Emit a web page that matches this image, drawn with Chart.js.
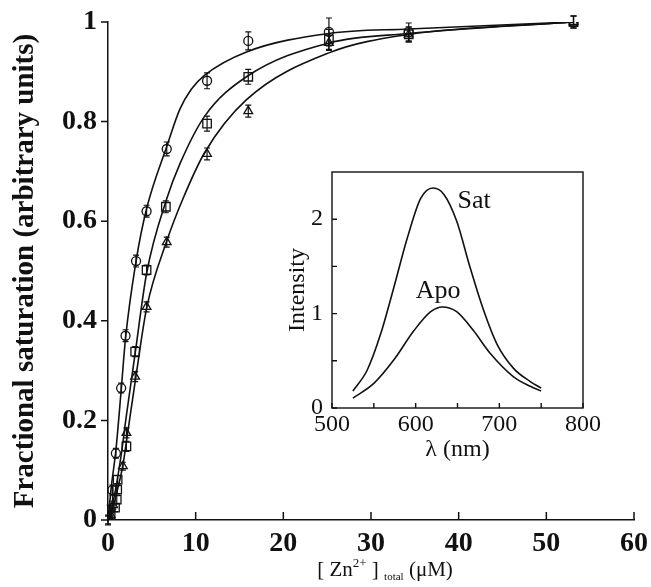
<!DOCTYPE html>
<html lang="en">
<head>
<meta charset="UTF-8">
<title>Zn2+ titration</title>
<script src="https://cdn.jsdelivr.net/npm/chart.js"></script>
<style>
  body { margin: 0; background: #fff; }
  #wrap { position: relative; width: 651px; height: 587px; }
  #mainChart { position: absolute; left: 0; top: 0; }
  #insetChart { position: absolute; left: 270px; top: 150px; }
</style>
</head>
<body>
<div id="wrap">
  <canvas id="mainChart" width="651" height="587"></canvas>
  <canvas id="insetChart" width="340" height="320"></canvas>
</div>
<script>
// ---- main plot: fractional saturation vs total Zn2+ (uM) ----
const concCircle = [0, 0.2, 0.5, 0.9, 1.5, 2.0, 3.2, 4.4, 6.7, 11.3, 16.0, 25.2, 34.3, 53.1];
const fracCircle = [0, 0.02, 0.06, 0.134, 0.265, 0.37, 0.52, 0.62, 0.745, 0.882, 0.962, 0.98, 0.98, 1.0];
const errCircle  = [0.01, 0.01, 0.01, 0.01, 0.01, 0.012, 0.012, 0.012, 0.014, 0.016, 0.018, 0.028, 0.018, 0.012];

const concSquare = [0, 0.3, 0.8, 1.0, 1.05, 1.1, 2.1, 3.1, 4.4, 6.6, 11.3, 16.0, 25.2, 34.3, 53.1];
const fracSquare = [0, 0.01, 0.025, 0.041, 0.061, 0.081, 0.148, 0.338, 0.502, 0.629, 0.796, 0.89, 0.965, 0.975, 1.0];
const errSquare  = [0.008, 0.008, 0.008, 0.008, 0.008, 0.008, 0.01, 0.01, 0.01, 0.012, 0.015, 0.015, 0.02, 0.015, 0.012];

const concTriangle = [0, 0.3, 0.6, 1.7, 2.1, 3.1, 4.4, 6.7, 11.3, 16.0, 25.2, 34.3, 53.1];
const fracTriangle = [0, 0.01, 0.03, 0.108, 0.175, 0.288, 0.428, 0.558, 0.735, 0.821, 0.958, 0.975, 1.0];
const errTriangle  = [0.008, 0.008, 0.008, 0.008, 0.01, 0.01, 0.01, 0.01, 0.012, 0.012, 0.015, 0.015, 0.012];

// fitted curves
const fitConcA = [0, 0.4, 0.9, 1.5, 2.0, 3.2, 4.4, 6.7, 8.2, 9.5, 11.0, 15.8, 25.2, 34.3, 53.1];
const fitA     = [0, 0.07, 0.14, 0.26, 0.365, 0.52, 0.625, 0.75, 0.825, 0.865, 0.893, 0.94, 0.977, 0.986, 1.0];
const fitConcB = [0, 0.5, 1.0, 1.5, 2.1, 3.1, 4.4, 6.7, 8.2, 11.0, 15.8, 25.2, 34.3, 53.1];
const fitB     = [0, 0.03, 0.075, 0.13, 0.21, 0.335, 0.495, 0.645, 0.715, 0.81, 0.89, 0.958, 0.977, 1.0];
const fitConcC = [0, 0.5, 1.0, 1.7, 2.2, 3.2, 4.4, 6.7, 8.5, 11.0, 15.8, 25.2, 34.3, 53.1];
const fitC     = [0, 0.02, 0.055, 0.11, 0.17, 0.29, 0.425, 0.56, 0.643, 0.737, 0.844, 0.938, 0.975, 1.0];

const xTicks = [0, 10, 20, 30, 40, 50, 60];
const yTicks = [0, 0.2, 0.4, 0.6, 0.8, 1];

// ---- inset: emission spectra ----
const waveSat = [525, 542, 558, 574, 590, 606, 621, 634, 649, 665, 681, 697, 717, 737, 750];
const intSat  = [0.18, 0.40, 0.78, 1.28, 1.80, 2.22, 2.33, 2.26, 1.98, 1.49, 1.04, 0.68, 0.42, 0.28, 0.21];
const waveApo = [525, 550, 574, 598, 618, 632, 649, 669, 689, 717, 737, 750];
const intApo  = [0.105, 0.26, 0.51, 0.82, 1.02, 1.07, 1.02, 0.82, 0.58, 0.33, 0.23, 0.18];
const insetXTicks = [500, 550, 600, 650, 700, 750, 800];
const insetYTicks = [0, 0.5, 1, 1.5, 2];
const spectrumNames = ['Sat', 'Apo'];

const serif = "'Liberation Serif', 'Times New Roman', serif";
const ink = '#111';

function pts(xs, ys) {
  return xs.map((x, i) => ({ x: x, y: ys[i] }));
}

function markers(label, xs, ys, errs, style, r) {
  return {
    label: label, data: pts(xs, ys), errors: errs, showLine: false, order: 0,
    pointStyle: style, pointRadius: r, pointBorderWidth: 1.3,
    pointBorderColor: ink, pointBackgroundColor: 'rgba(255,255,255,0)'
  };
}

function curve(label, xs, ys) {
  return {
    label: label, data: pts(xs, ys), showLine: true, order: 1,
    borderColor: ink, borderWidth: 1.6, pointRadius: 0,
    cubicInterpolationMode: 'monotone'
  };
}

// chart.js adds tick-label room around the plot; we set the area ourselves
function noPadding(s) {
  s.paddingTop = 0; s.paddingBottom = 0; s.paddingLeft = 0; s.paddingRight = 0;
}

const errorBars = {
  id: 'errorBars',
  afterDatasetsDraw(chart) {
    const { ctx, scales: { x, y } } = chart;
    ctx.save();
    ctx.strokeStyle = ink;
    ctx.lineWidth = 1.2;
    chart.data.datasets.forEach(ds => {
      if (!ds.errors) return;
      ds.data.forEach((p, i) => {
        const px = x.getPixelForValue(p.x);
        const lo = y.getPixelForValue(p.y - ds.errors[i]);
        const hi = y.getPixelForValue(p.y + ds.errors[i]);
        ctx.beginPath();
        ctx.moveTo(px, lo); ctx.lineTo(px, hi);
        ctx.moveTo(px - 3, lo); ctx.lineTo(px + 3, lo);
        ctx.moveTo(px - 3, hi); ctx.lineTo(px + 3, hi);
        ctx.stroke();
      });
    });
    ctx.restore();
  }
};

// tick marks: y outward (to the left), x inward (upward)
const mainTicks = {
  id: 'mainTicks',
  afterDraw(chart) {
    const { ctx, chartArea: a, scales: { x, y } } = chart;
    ctx.save();
    ctx.strokeStyle = ink;
    ctx.lineWidth = 1.5;
    ctx.beginPath();
    yTicks.forEach(v => {
      const py = y.getPixelForValue(v);
      ctx.moveTo(a.left - 7, py); ctx.lineTo(a.left, py);
    });
    xTicks.forEach(v => {
      const px = x.getPixelForValue(v);
      ctx.moveTo(px, a.bottom); ctx.lineTo(px, a.bottom - 8);
    });
    ctx.stroke();

    // x axis title with super/subscripts
    const parts = [
      { t: '[ Zn', size: 21, dy: 0 },
      { t: '2+', size: 13, dy: -9 },
      { t: ' ] ', size: 21, dy: 0 },
      { t: 'total', size: 11, dy: 4 },
      { t: ' (\u03bcM)', size: 21, dy: 0 }
    ];
    let w = 0;
    parts.forEach(p => { ctx.font = p.size + 'px ' + serif; p.w = ctx.measureText(p.t).width; w += p.w; });
    let cx = 385 - w / 2;
    ctx.fillStyle = ink;
    ctx.textBaseline = 'alphabetic';
    parts.forEach(p => {
      ctx.font = p.size + 'px ' + serif;
      ctx.fillText(p.t, cx, 576 + p.dy);
      cx += p.w;
    });
    ctx.restore();
  }
};

new Chart(document.getElementById('mainChart'), {
  type: 'scatter',
  data: {
    datasets: [
      curve('fit circles', fitConcA, fitA),
      curve('fit squares', fitConcB, fitB),
      curve('fit triangles', fitConcC, fitC),
      markers('circles', concCircle, fracCircle, errCircle, 'circle', 4.5),
      markers('squares', concSquare, fracSquare, errSquare, 'rect', 6),
      markers('triangles', concTriangle, fracTriangle, errTriangle, 'triangle', 5)
    ]
  },
  options: {
    responsive: false,
    animation: false,
    layout: { padding: { left: 0, top: 22, right: 17, bottom: 0 } },
    plugins: { legend: { display: false }, tooltip: { enabled: false } },
    scales: {
      x: {
        type: 'linear', min: 0, max: 60,
        afterFit: s => { s.height = 67; noPadding(s); },
        afterBuildTicks: s => { s.ticks = xTicks.map(v => ({ value: v })); },
        grid: { display: false, drawTicks: false },
        border: { display: true, color: ink, width: 1.5 },
        ticks: { color: ink, padding: 7, maxRotation: 0, autoSkip: false,
                 font: { family: serif, size: 28, weight: 'bold' } }
      },
      y: {
        type: 'linear', min: 0, max: 1,
        afterFit: s => { s.width = 108; noPadding(s); },
        afterBuildTicks: s => { s.ticks = yTicks.map(v => ({ value: v })); },
        grid: { display: false, drawTicks: false },
        border: { display: true, color: ink, width: 1.5 },
        ticks: { color: ink, padding: 11, autoSkip: false,
                 callback: v => String(+v.toFixed(1)),
                 font: { family: serif, size: 28, weight: 'bold' } },
        title: { display: true, text: 'Fractional saturation (arbitrary units)', color: ink,
                 padding: { top: 8, bottom: 0 },
                 font: { family: serif, size: 29, weight: 'bold' } }
      }
    }
  },
  plugins: [errorBars, mainTicks]
});

// inset: framed box, inward ticks, curve labels
const insetDecor = {
  id: 'insetDecor',
  afterDraw(chart) {
    const { ctx, chartArea: a, scales: { x, y } } = chart;
    ctx.save();
    ctx.strokeStyle = ink;
    ctx.lineWidth = 1.4;
    ctx.strokeRect(a.left, a.top, a.right - a.left, a.bottom - a.top);
    ctx.beginPath();
    insetXTicks.forEach(v => {
      const px = x.getPixelForValue(v);
      ctx.moveTo(px, a.bottom); ctx.lineTo(px, a.bottom - 5);
    });
    insetYTicks.forEach(v => {
      const py = y.getPixelForValue(v);
      ctx.moveTo(a.left, py); ctx.lineTo(a.left + 5, py);
    });
    ctx.stroke();
    ctx.fillStyle = ink;
    ctx.font = '26px ' + serif;
    ctx.textBaseline = 'alphabetic';
    ctx.fillText(spectrumNames[0], x.getPixelForValue(650), y.getPixelForValue(2.12));
    ctx.fillText(spectrumNames[1], x.getPixelForValue(600), y.getPixelForValue(1.17));
    ctx.restore();
  }
};

new Chart(document.getElementById('insetChart'), {
  type: 'scatter',
  data: {
    datasets: [
      { label: spectrumNames[0], data: pts(waveSat, intSat), showLine: true, borderColor: ink,
        borderWidth: 1.6, pointRadius: 0, cubicInterpolationMode: 'monotone' },
      { label: spectrumNames[1], data: pts(waveApo, intApo), showLine: true, borderColor: ink,
        borderWidth: 1.6, pointRadius: 0, cubicInterpolationMode: 'monotone' }
    ]
  },
  options: {
    responsive: false,
    animation: false,
    layout: { padding: { left: 0, top: 22, right: 27, bottom: 0 } },
    plugins: { legend: { display: false }, tooltip: { enabled: false } },
    scales: {
      x: {
        type: 'linear', min: 500, max: 800,
        afterFit: s => { s.height = 62; noPadding(s); },
        afterBuildTicks: s => { s.ticks = insetXTicks.map(v => ({ value: v })); },
        grid: { display: false, drawTicks: false },
        border: { display: false },
        ticks: { color: ink, padding: 2, maxRotation: 0, autoSkip: false,
                 callback: v => (v % 100 === 0 ? v : ''),
                 font: { family: serif, size: 24 } },
        title: { display: true, text: '\u03bb (nm)', color: ink, padding: { top: 0, bottom: 6 },
                 font: { family: serif, size: 24 } }
      },
      y: {
        type: 'linear', min: 0, max: 2.5,
        afterFit: s => { s.width = 62; noPadding(s); },
        afterBuildTicks: s => { s.ticks = insetYTicks.map(v => ({ value: v })); },
        grid: { display: false, drawTicks: false },
        border: { display: false },
        ticks: { color: ink, padding: 9, autoSkip: false,
                 callback: v => (Number.isInteger(v) ? v : ''),
                 font: { family: serif, size: 24 } },
        title: { display: true, text: 'Intensity', color: ink, padding: { top: 13, bottom: 0 },
                 font: { family: serif, size: 24 } }
      }
    }
  },
  plugins: [insetDecor]
});
</script>
</body>
</html>
